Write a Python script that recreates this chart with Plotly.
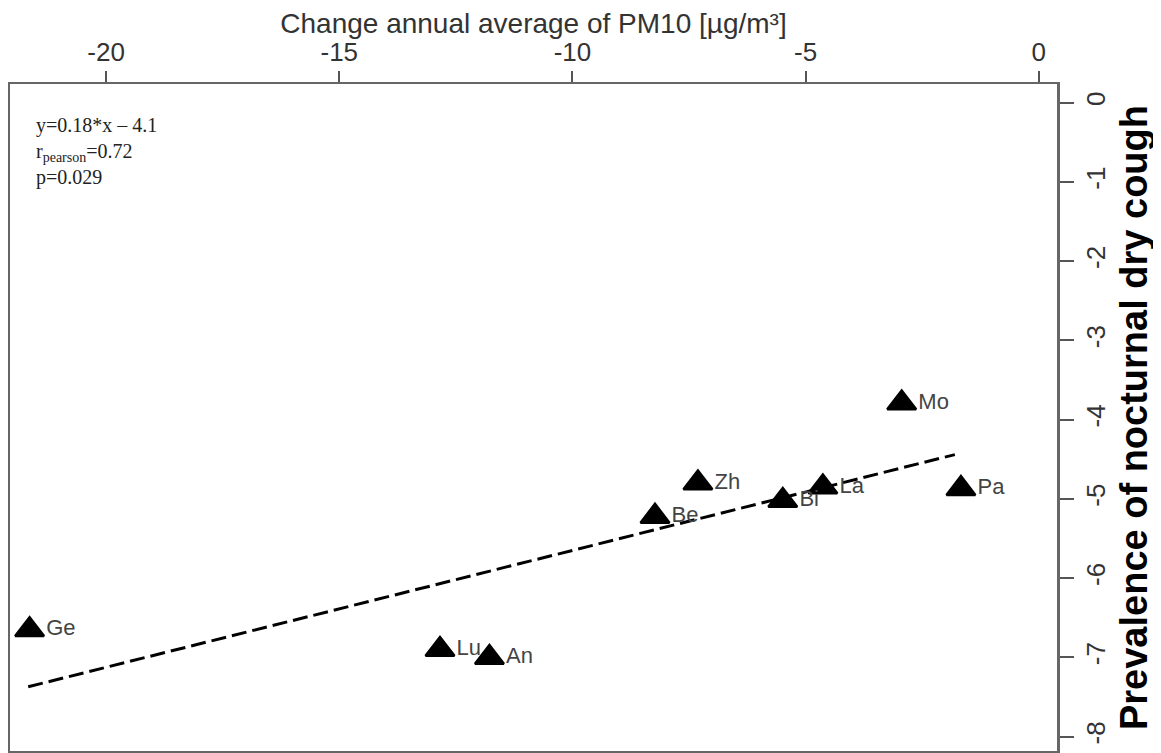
import plotly.graph_objects as go

# Data
sites = ["Ge", "Lu", "An", "Be", "Zh", "Bi", "La", "Mo", "Pa"]
pm10_change = [-21.64, -12.84, -11.78, -8.23, -7.31, -5.49, -4.63, -2.94, -1.67]
cough_change = [-6.65, -6.90, -7.00, -5.22, -4.80, -5.02, -4.85, -3.79, -4.87]

fit_x = [-21.67, -1.80]
fit_y = [-7.37, -4.44]

x_ticks = [-20, -15, -10, -5, 0]
y_ticks = [0, -1, -2, -3, -4, -5, -6, -7, -8]

stats_lines = ["y=0.18*x – 4.1", "r<sub>pearson</sub>=0.72", "p=0.029"]

fig = go.Figure()

fig.add_trace(go.Scatter(
    x=fit_x, y=fit_y, mode="lines",
    line=dict(color="black", width=3, dash="15px,6px"),
    hoverinfo="skip", showlegend=False,
))

fig.add_trace(go.Scatter(
    x=pm10_change, y=cough_change, mode="markers+text",
    marker=dict(symbol="triangle-up", size=25, color="black",
                line=dict(color="black", width=2.5)),
    text=sites, textposition="middle right",
    textfont=dict(family="Liberation Sans, Arial, sans-serif", size=22, color="#444444"),
    showlegend=False,
))

fig.add_annotation(
    xref="paper", yref="paper", x=0.023, y=0.958,
    xanchor="left", yanchor="top", align="left", showarrow=False,
    text="<br>".join(stats_lines),
    font=dict(family="Liberation Serif, Times New Roman, serif", size=20, color="#222222"),
)

axis_font = dict(family="Liberation Sans, Arial, sans-serif", size=26, color="#333333")

fig.update_layout(
    width=1161, height=753,
    margin=dict(l=2, r=112, t=76, b=10),
    paper_bgcolor="white", plot_bgcolor="white",
    xaxis=dict(
        side="top", range=[-22.06, 0.39], automargin=False,
        tickvals=x_ticks, ticktext=[str(v) for v in x_ticks],
        ticks="outside", ticklen=11, tickwidth=1.5, tickcolor="#555555",
        showline=True, linecolor="#666666", linewidth=2, mirror=True,
        showgrid=False, zeroline=False,
        tickfont=axis_font,
        title=dict(text="Change annual average of PM10 [µg/m³]",
                   font=dict(family="Liberation Sans, Arial, sans-serif", size=28, color="#333333"),
                   standoff=2),
    ),
    yaxis=dict(
        side="right", range=[-8.18, 0.236], automargin=False,
        tickvals=y_ticks, ticktext=[str(v) for v in y_ticks],
        tickangle=-90,
        ticks="outside", ticklen=14, tickwidth=1.5, tickcolor="#555555",
        showline=True, linecolor="#666666", linewidth=3, mirror=True,
        showgrid=False, zeroline=False,
        tickfont=axis_font,
        title=dict(text="<b>Prevalence of nocturnal dry cough</b>",
                   font=dict(family="Liberation Sans, Arial, sans-serif", size=38, color="black"),
                   standoff=11),
    ),
)

fig.write_html("out.html")
